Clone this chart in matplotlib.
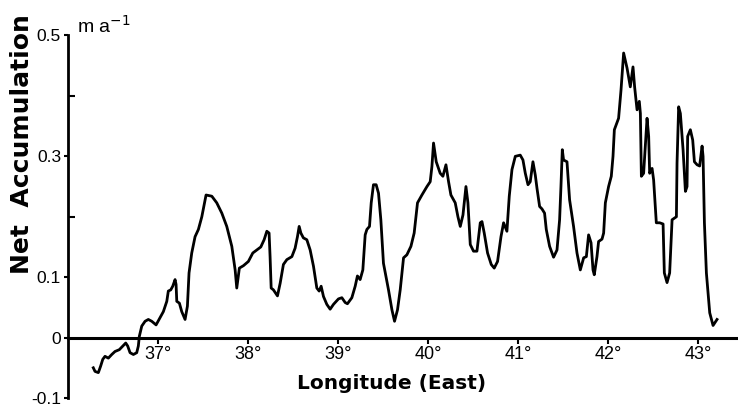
import numpy as np
import matplotlib
matplotlib.use('Agg')
import matplotlib.pyplot as plt
from matplotlib.ticker import FixedLocator

# net accumulation profile (longitude East, m a-1)
lon = [36.281, 36.300, 36.337, 36.363, 36.386, 36.411, 36.448, 36.486, 36.522, 36.570,
       36.608, 36.641, 36.663, 36.689, 36.726, 36.763, 36.781, 36.792, 36.819, 36.856,
       36.892, 36.930, 36.978, 37.022, 37.059, 37.097, 37.114, 37.141, 37.163, 37.189,
       37.200, 37.208, 37.237, 37.263, 37.300, 37.326, 37.344, 37.374, 37.411, 37.448,
       37.486, 37.533, 37.597, 37.652, 37.708, 37.763, 37.819, 37.856, 37.874, 37.903,
       37.948, 38.003, 38.052, 38.097, 38.141, 38.178, 38.208, 38.233, 38.244, 38.256,
       38.281, 38.326, 38.356, 38.392, 38.430, 38.486, 38.522, 38.548, 38.567, 38.586,
       38.614, 38.652, 38.689, 38.726, 38.763, 38.789, 38.811, 38.837, 38.874, 38.911,
       38.948, 39.003, 39.041, 39.078, 39.103, 39.152, 39.189, 39.214, 39.244, 39.274,
       39.300, 39.319, 39.348, 39.367, 39.392, 39.422, 39.448, 39.474, 39.503, 39.559,
       39.597, 39.626, 39.659, 39.689, 39.726, 39.763, 39.808, 39.844, 39.881, 39.930,
       39.986, 40.022, 40.041, 40.059, 40.089, 40.133, 40.163, 40.197, 40.226, 40.252,
       40.300, 40.330, 40.356, 40.386, 40.419, 40.441, 40.467, 40.503, 40.541, 40.578,
       40.597, 40.622, 40.659, 40.700, 40.733, 40.770, 40.808, 40.837, 40.874, 40.900,
       40.930, 40.967, 41.022, 41.052, 41.078, 41.108, 41.133, 41.163, 41.189, 41.208,
       41.237, 41.263, 41.292, 41.311, 41.348, 41.392, 41.430, 41.459, 41.474, 41.489,
       41.503, 41.541, 41.570, 41.614, 41.652, 41.689, 41.726, 41.756, 41.781, 41.808,
       41.830, 41.844, 41.874, 41.892, 41.930, 41.948, 41.967, 42.003, 42.033, 42.052,
       42.067, 42.114, 42.141, 42.170, 42.208, 42.244, 42.274, 42.292, 42.319, 42.344,
       42.356, 42.367, 42.392, 42.430, 42.448, 42.459, 42.486, 42.503, 42.533, 42.570,
       42.608, 42.622, 42.652, 42.681, 42.708, 42.756, 42.763, 42.781, 42.800, 42.830,
       42.856, 42.874, 42.881, 42.911, 42.937, 42.956, 42.986, 43.014, 43.041, 43.052,
       43.067, 43.089, 43.126, 43.163, 43.207]
acc = [-0.050, -0.056, -0.058, -0.047, -0.036, -0.031, -0.034, -0.028, -0.023, -0.020,
       -0.014, -0.009, -0.014, -0.025, -0.028, -0.025, -0.014, 0.002, 0.019, 0.027,
       0.030, 0.027, 0.021, 0.033, 0.043, 0.060, 0.077, 0.079, 0.085, 0.096,
       0.088, 0.060, 0.057, 0.043, 0.030, 0.052, 0.107, 0.140, 0.167, 0.179,
       0.200, 0.236, 0.234, 0.223, 0.206, 0.184, 0.151, 0.112, 0.082, 0.115,
       0.119, 0.126, 0.140, 0.145, 0.150, 0.162, 0.176, 0.173, 0.134, 0.082,
       0.079, 0.069, 0.090, 0.121, 0.129, 0.134, 0.148, 0.167, 0.184, 0.173,
       0.165, 0.162, 0.145, 0.118, 0.082, 0.077, 0.085, 0.068, 0.055, 0.047,
       0.055, 0.064, 0.066, 0.058, 0.056, 0.066, 0.085, 0.102, 0.096, 0.112,
       0.170, 0.179, 0.184, 0.223, 0.253, 0.253, 0.239, 0.195, 0.123, 0.079,
       0.046, 0.027, 0.046, 0.079, 0.132, 0.137, 0.151, 0.173, 0.223, 0.236,
       0.250, 0.258, 0.283, 0.322, 0.291, 0.272, 0.267, 0.286, 0.258, 0.236,
       0.223, 0.200, 0.184, 0.203, 0.250, 0.223, 0.154, 0.143, 0.143, 0.190,
       0.192, 0.173, 0.140, 0.121, 0.115, 0.126, 0.167, 0.190, 0.176, 0.234,
       0.278, 0.300, 0.302, 0.294, 0.272, 0.253, 0.258, 0.291, 0.269, 0.247,
       0.217, 0.213, 0.206, 0.179, 0.151, 0.133, 0.145, 0.195, 0.250, 0.311,
       0.294, 0.291, 0.228, 0.184, 0.140, 0.112, 0.132, 0.134, 0.170, 0.157,
       0.112, 0.104, 0.134, 0.159, 0.163, 0.173, 0.223, 0.250, 0.267, 0.300,
       0.344, 0.363, 0.410, 0.471, 0.446, 0.415, 0.448, 0.415, 0.377, 0.391,
       0.371, 0.267, 0.272, 0.363, 0.333, 0.272, 0.280, 0.261, 0.190, 0.190,
       0.188, 0.107, 0.091, 0.107, 0.195, 0.200, 0.289, 0.382, 0.371, 0.311,
       0.242, 0.250, 0.333, 0.344, 0.327, 0.291, 0.286, 0.284, 0.317, 0.300,
       0.190, 0.107, 0.041, 0.020, 0.030]

xticks = [37, 38, 39, 40, 41, 42, 43]
xtick_labels = ['37°', '38°', '39°', '40°', '41°', '42°', '43°']
yticks = [-0.1, 0, 0.1, 0.3, 0.5]
ytick_labels = ['-0.1', '0', '0.1', '0.3', '0.5']

plt.rcParams['font.family'] = ['Liberation Sans', 'DejaVu Sans']

fig = plt.figure(figsize=(7.38, 4.07), dpi=100)
ax = fig.add_axes([68/738, 9/407, 670/738, 362.5/407])

ax.plot(lon, acc, color='black', lw=2.0, solid_joinstyle='round')

ax.set_xlim(36.0, 43.44)
ax.set_ylim(-0.1, 0.5)

for s in ['top', 'right']:
    ax.spines[s].set_visible(False)
ax.spines['bottom'].set_position(('data', 0))
ax.spines['bottom'].set_linewidth(2.2)
ax.spines['left'].set_linewidth(2.0)

ax.set_xticks(xticks)
ax.set_xticklabels(xtick_labels, fontsize=13)
ax.set_yticks(yticks)
ax.set_yticklabels(ytick_labels, fontsize=12.5)
ax.yaxis.set_minor_locator(FixedLocator([-0.1, 0.2, 0.4, 0.5]))
ax.tick_params(axis='x', direction='out', length=4, width=1.5, pad=2)
ax.tick_params(axis='y', which='major', direction='out', length=3, width=1.5, pad=2)
ax.tick_params(axis='y', which='minor', direction='in', length=5, width=1.5)

ax.text(-0.068, 0.70, 'Net  Accumulation', transform=ax.transAxes, rotation=90,
        ha='center', va='center', fontsize=18, fontweight='bold',
        family='DejaVu Sans')
ax.text(0.483, 0.041, 'Longitude (East)', transform=ax.transAxes,
        ha='center', va='center', fontsize=14.5, fontweight='bold',
        family='DejaVu Sans')
ax.text(0.013, 1.008, 'm a$^{-1}$', transform=ax.transAxes, ha='left', va='baseline',
        fontsize=14)

fig.savefig('out.png', dpi=100)
